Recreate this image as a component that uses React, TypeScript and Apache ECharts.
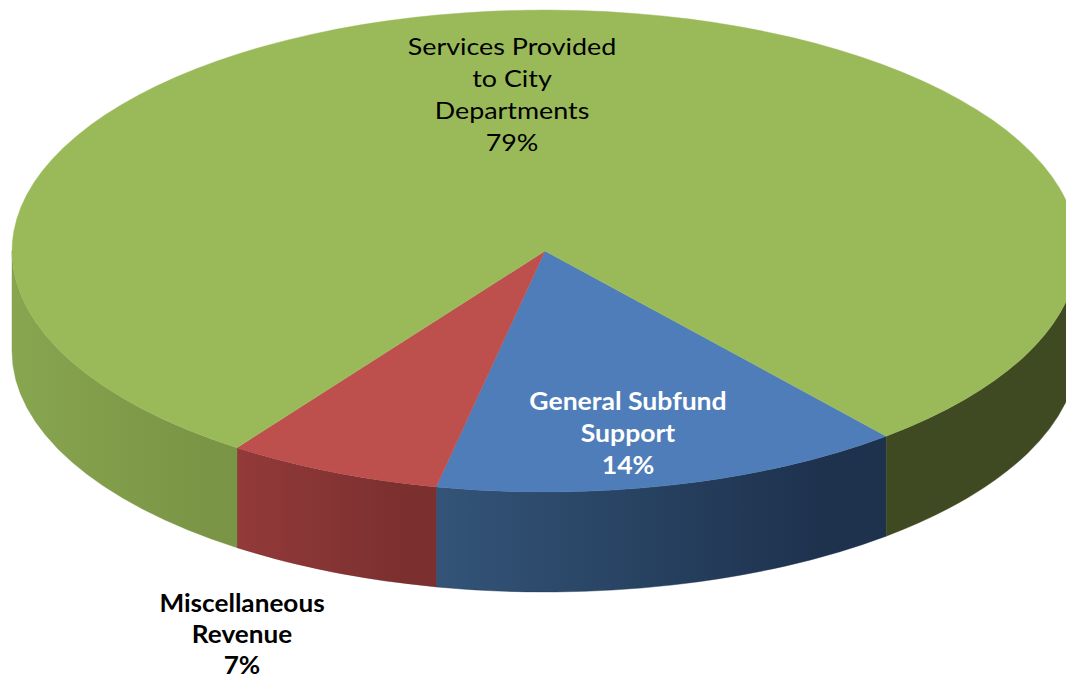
import React, { useEffect, useRef } from "react";
import * as echarts from "echarts";

const categories = ["General Subfund Support", "Miscellaneous Revenue", "Services Provided to City Departments"];
const shares = [14.33, 6.53, 79.14];
const labelTexts = ["General Subfund\nSupport\n14%", "Miscellaneous\nRevenue\n7%", "Services Provided\nto City\nDepartments\n79%"];

const topColors = ["#4f7db9", "#bd4f4d", "#9aba5a"];
const wallStops: [string, string][][] = [
  [["#335478", "#1e324e"]],
  [["#933a3a", "#7b2f2f"]],
  [["#88a550", "#7a9545"], ["#3f4a22", "#3f4a22"]],
];
const labelColors = ["#ffffff", "#000000", "#000000"];
const labelWeights = ["bold", "bold", "normal"];
const labelPos = [[628, 433], [242, 633], [512, 94]];
const labelStretch = [1.107, 1.09, 1.12];
const labelLineHeights = [32, 31, 32];

const CX = 545, CY = 251, RX = 533, RY = 241, DEPTH = 100;
const START_DEG = 50.2;

const pt = (deg: number, dy = 0) => {
  const r = (deg * Math.PI) / 180;
  return [CX + RX * Math.cos(r), CY + RY * Math.sin(r) + dy];
};

const arcTo = (from: number, to: number, dy: number, sweep: number) => {
  const p = pt(to, dy);
  const large = Math.abs(to - from) > 180 ? 1 : 0;
  return `A ${RX} ${RY} 0 ${large} ${sweep} ${p[0]} ${p[1]}`;
};

const topPath = (a: number, b: number) => {
  const s = pt(a);
  return `M ${CX} ${CY} L ${s[0]} ${s[1]} ${arcTo(a, b, 0, 1)} Z`;
};

const wallPath = (a: number, b: number) => {
  const s = pt(a);
  const e = pt(b, DEPTH);
  return `M ${s[0]} ${s[1]} ${arcTo(a, b, 0, 1)} L ${e[0]} ${e[1]} ${arcTo(b, a, DEPTH, 0)} Z`;
};

// Parts of a slice that face the viewer: parametric angles within 0..180 (mod 360).
const visibleRanges = (a: number, b: number) => {
  const out: [number, number][] = [];
  for (const [lo, hi] of [[0, 180], [360, 540]]) {
    const s = Math.max(a, lo), e = Math.min(b, hi);
    if (e > s) out.push([s, e]);
  }
  return out;
};

export default function App() {
  const ref = useRef<HTMLDivElement>(null);
  useEffect(() => {
    const chart = echarts.init(ref.current!, null, { renderer: "svg" });
    const total = shares.reduce((s, v) => s + v, 0);
    chart.setOption({
      animation: false,
      backgroundColor: "#ffffff",
      series: [
        {
          type: "custom",
          coordinateSystem: "none",
          silent: true,
          data: shares.map((v, i) => ({ name: categories[i], value: v })),
          renderItem: (params: any, api: any) => {
            const i = params.dataIndex;
            let before = 0;
            for (let k = 0; k < i; k++) before += shares[k];
            const a = START_DEG + (before / total) * 360;
            const b = a + (Number(api.value(0)) / total) * 360;
            const walls = visibleRanges(a, b).map(([s, e], w) => {
              const stops = wallStops[i][w];
              const fill = new echarts.graphic.LinearGradient(0, 0, 1, 0, [
                { offset: 0, color: stops[0] },
                { offset: 0.85, color: stops[1] },
                { offset: 1, color: stops[1] },
              ]);
              return {
                type: "path",
                shape: { pathData: wallPath(s, e) },
                style: { fill, stroke: stops[1], lineWidth: 0.4 },
              };
            });
            return {
              type: "group",
              children: [
                ...walls,
                {
                  type: "path",
                  shape: { pathData: topPath(a, b) },
                  style: { fill: topColors[i], stroke: topColors[i], lineWidth: 0.4 },
                },
                {
                  type: "text",
                  z2: 10,
                  x: labelPos[i][0],
                  y: labelPos[i][1],
                  scaleX: labelStretch[i],
                  style: {
                    text: labelTexts[i],
                    x: 0,
                    y: 0,
                    fill: labelColors[i],
                    align: "center",
                    verticalAlign: "middle",
                    lineHeight: labelLineHeights[i],
                    font: `${labelWeights[i]} 24px Lato`,
                  },
                },
              ],
            };
          },
        },
      ],
    });
    return () => chart.dispose();
  }, []);
  return <div ref={ref} style={{ position: "absolute", left: 0, top: 0, width: 1066, height: 677, overflow: "hidden" }} />;
}
